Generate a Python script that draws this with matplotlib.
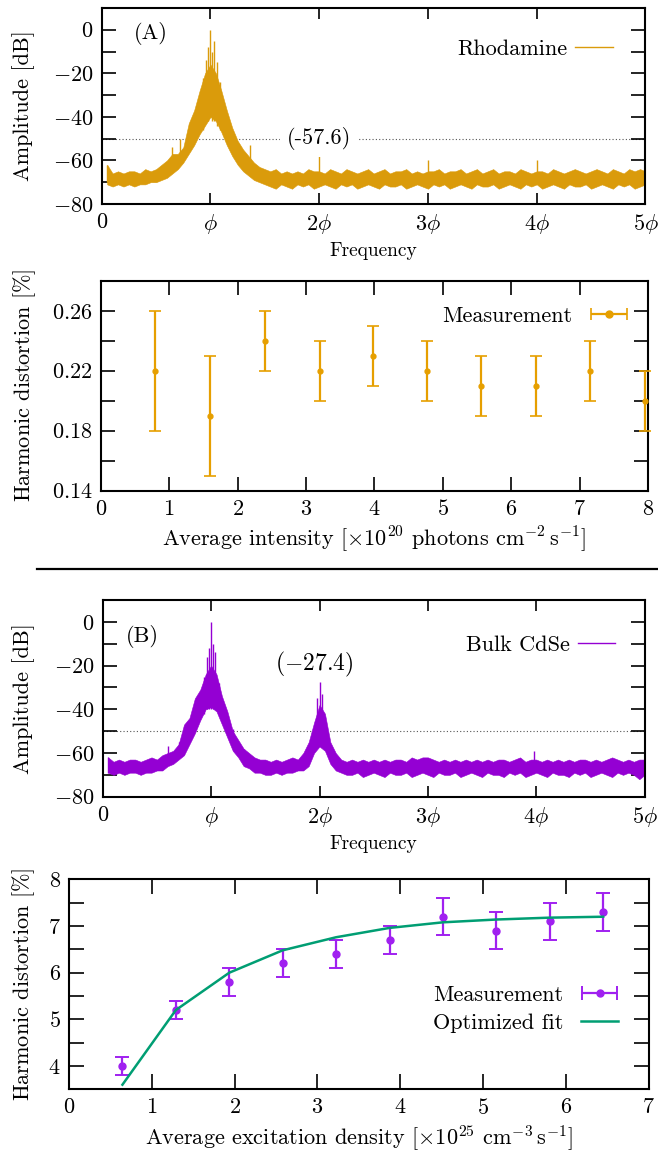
import numpy as np
import matplotlib
matplotlib.use('Agg')
import matplotlib.pyplot as plt
from matplotlib.lines import Line2D
from matplotlib.legend_handler import HandlerErrorbar

plt.rcParams['font.family'] = 'serif'
plt.rcParams['font.serif'] = ['cmr10']
plt.rcParams['mathtext.fontset'] = 'cm'
plt.rcParams['axes.unicode_minus'] = False
plt.rcParams['axes.formatter.use_mathtext'] = True

# ---- spectra: frequency grid (units of phi), upper / lower envelope of the noisy trace [dB]
freq = np.linspace(0.05, 5.0, 100)

rhod_hi = [-62, -66, -65, -66, -65, -65, -66, -64, -65, -64,
           -62, -60, -57, -57, -54, -43, -37, -28, -20, -16,
           -20, -28, -37, -45, -51, -55, -58, -61, -63, -64,
           -65, -64, -66, -65, -66, -65, -66, -64, -65, -65,
           -66, -64, -65, -66, -64, -65, -66, -65, -64, -66,
           -65, -64, -66, -65, -65, -64, -66, -65, -66, -65,
           -65, -64, -66, -65, -65, -64, -66, -65, -64, -66,
           -65, -64, -66, -65, -65, -66, -64, -65, -66, -65,
           -65, -66, -64, -65, -66, -65, -64, -65, -66, -65,
           -64, -65, -66, -64, -65, -66, -64, -65, -64, -65]
rhod_lo = [-71, -72, -71, -72, -71, -72, -71, -71, -70, -70,
           -69, -68, -66, -64, -61, -57, -53, -48, -44, -40,
           -42, -47, -53, -58, -62, -65, -67, -69, -70, -71,
           -72, -73, -71, -72, -73, -71, -72, -71, -73, -72,
           -71, -72, -73, -71, -72, -71, -73, -72, -71, -72,
           -73, -71, -72, -72, -71, -73, -72, -71, -72, -73,
           -71, -72, -71, -73, -72, -71, -72, -73, -71, -72,
           -72, -71, -73, -72, -71, -72, -73, -71, -72, -71,
           -73, -72, -71, -72, -73, -71, -72, -72, -71, -73,
           -72, -71, -72, -73, -71, -72, -71, -73, -72, -71]
rhod_spk_f = [0.05, 0.65, 0.72, 0.93, 0.96, 0.98, 1.00, 1.01, 1.03, 1.06, 1.09, 1.36, 2.00, 3.00, 4.00]
rhod_spk_lo = [-70, -64, -60, -46, -42, -42, -40, -42, -42, -44, -46, -66, -68, -68, -68]
rhod_spk_hi = [-62, -54, -50, -22, -14, -8, 0, -10, -5, -15, -24, -53, -58, -60, -60]

cdse_hi = [-62, -64, -63, -64, -63, -63, -64, -63, -62, -63,
           -61, -60, -59, -56, -47, -44, -35, -31, -24, -20,
           -24, -34, -41, -50, -54, -58, -60, -62, -63, -63,
           -64, -63, -64, -63, -62, -63, -60, -55, -46, -38,
           -42, -55, -60, -63, -64, -63, -64, -63, -64, -63,
           -64, -63, -64, -63, -63, -64, -62, -63, -62, -62,
           -63, -64, -63, -64, -63, -64, -63, -64, -63, -64,
           -63, -64, -63, -63, -64, -63, -62, -64, -63, -63,
           -64, -63, -64, -63, -64, -63, -64, -63, -63, -64,
           -63, -64, -63, -62, -63, -64, -63, -64, -63, -63]
cdse_lo = [-69, -70, -69, -70, -69, -69, -70, -69, -69, -68,
           -68, -66, -65, -63, -61, -56, -51, -45, -40, -39,
           -41, -47, -53, -59, -62, -66, -67, -69, -69, -70,
           -70, -69, -70, -69, -69, -68, -68, -66, -60, -57,
           -59, -65, -68, -69, -70, -70, -69, -71, -70, -69,
           -70, -71, -69, -70, -70, -69, -71, -70, -69, -70,
           -71, -69, -70, -70, -69, -71, -70, -69, -70, -71,
           -69, -70, -70, -71, -69, -70, -69, -71, -70, -69,
           -70, -71, -69, -70, -70, -71, -69, -70, -69, -71,
           -70, -69, -70, -71, -69, -70, -69, -70, -72, -70]
cdse_spk_f = [0.05, 0.60, 0.70, 0.93, 0.96, 0.98, 1.00, 1.02, 1.04, 1.07, 1.20, 1.30, 1.98, 2.00, 2.02, 3.98]
cdse_spk_lo = [-69, -65, -62, -42, -40, -40, -40, -40, -40, -42, -58, -64, -56, -56, -56, -66]
cdse_spk_hi = [-62, -57, -55, -25, -16, -12, 0, -10, -14, -28, -49, -58, -35, -27.4, -33, -59]

# ---- harmonic distortion, rhodamine
rhod_int = [0.80, 1.60, 2.40, 3.20, 3.98, 4.77, 5.56, 6.36, 7.15, 7.95]
rhod_hd = [0.22, 0.19, 0.24, 0.22, 0.23, 0.22, 0.21, 0.21, 0.22, 0.20]
rhod_err = [0.04, 0.04, 0.02, 0.02, 0.02, 0.02, 0.02, 0.02, 0.02, 0.02]

# ---- harmonic distortion, bulk CdSe
cdse_dens = [0.645, 1.29, 1.935, 2.58, 3.225, 3.87, 4.515, 5.16, 5.805, 6.45]
cdse_hd = [4.0, 5.2, 5.8, 6.2, 6.4, 6.7, 7.2, 6.9, 7.1, 7.3]
cdse_err = [0.2, 0.2, 0.3, 0.3, 0.3, 0.3, 0.4, 0.4, 0.4, 0.4]
cdse_fit = [3.6, 5.2, 6.0, 6.48, 6.76, 6.96, 7.08, 7.14, 7.18, 7.2]

c_rhod_spec = '#DA9B0B'
c_rhod_err = '#E69F00'
c_cdse_spec = '#9400D3'
c_cdse_err = '#A020F0'
c_fit = '#009E73'

FS = 16
TFS = 16

fig = plt.figure(figsize=(6.58, 11.53), dpi=100)


def style(ax, tl=10):
    for s in ax.spines.values():
        s.set_linewidth(1.5)
    ax.tick_params(direction='in', top=True, right=True, length=tl, width=1.2,
                   labelsize=TFS, pad=6)


def spectrum(ax, hi, lo, sf, slo, shi, color, label, legpos):
    ax.axhline(-50, color='#555555', lw=0.8, ls=(0, (1, 2)), zorder=1)
    ax.fill_between(freq, lo, hi, color=color, lw=0.4, zorder=2)
    ax.vlines(sf, slo, shi, color=color, lw=1.0, zorder=2)
    ax.plot([], [], color=color, lw=1.0, label=label)
    ax.set_xlim(0, 5)
    ax.set_ylim(-80, 10)
    ax.set_xticks(range(6))
    ax.set_xticklabels(['$0$', r'$\phi$', r'$2\phi$', r'$3\phi$', r'$4\phi$', r'$5\phi$'])
    ax.set_yticks(range(-80, 1, 10))
    ax.set_yticklabels(['$%d$' % v if v % 20 == 0 else '' for v in range(-80, 1, 10)])
    ax.set_ylabel('Amplitude [dB]', fontsize=FS)
    ax.set_xlabel('Frequency', fontsize=14)
    style(ax)
    ax.tick_params(axis='x', length=8)
    ax.legend(loc='center right', bbox_to_anchor=legpos, frameon=False, markerfirst=False,
              fontsize=FS, handlelength=1.7, handletextpad=0.35, borderpad=0, borderaxespad=0)


# panel A spectrum
axA = fig.add_axes([0.1546, 0.8231, 0.8264, 0.170])
spectrum(axA, rhod_hi, rhod_lo, rhod_spk_f, rhod_spk_lo, rhod_spk_hi, c_rhod_spec, 'Rhodamine', (0.94, 0.791))
axA.text(2.0, -50, '(-57.6)', fontsize=FS, ha='center', va='center',
         bbox=dict(facecolor='white', edgecolor='none', pad=5), zorder=3)
axA.text(0.3, -1.5, '(A)', fontsize=FS, ha='left', va='center')
axA.yaxis.set_label_coords(-0.1227, 0.5)

# panel A harmonic distortion
axA2 = fig.add_axes([0.1530, 0.5744, 0.8318, 0.1821])
axA2.errorbar(rhod_int, rhod_hd, yerr=rhod_err, fmt='o', ms=3.5, color=c_rhod_err,
              lw=1.6, capsize=4, capthick=1.2, clip_on=False, zorder=3)
hA = axA2.errorbar([np.nan], [np.nan], xerr=[1], fmt='o', ms=5, color=c_rhod_err,
                   lw=1.6, capsize=4, capthick=1.2, label='Measurement')
axA2.set_xlim(0, 8)
axA2.set_ylim(0.14, 0.28)
axA2.set_xticks(range(9))
axA2.set_xticklabels(['$%d$' % v for v in range(9)])
yt = [0.14, 0.16, 0.18, 0.20, 0.22, 0.24, 0.26, 0.28]
axA2.set_yticks(yt)
axA2.set_yticklabels(['$%.2f$' % v if i % 2 == 0 else '' for i, v in enumerate(yt)])
axA2.set_xlabel(r'Average intensity [$\times10^{20}$ photons cm$^{-2}\,$s$^{-1}$]', fontsize=FS)
axA2.set_ylabel(r'Harmonic distortion [$\%$]', fontsize=FS)
axA2.yaxis.set_label_coords(-0.1146, 0.5)
style(axA2)
axA2.legend(handles=[hA], handler_map={type(hA): HandlerErrorbar(xerr_size=0.8)},
            loc='center right', bbox_to_anchor=(0.962, 0.833), frameon=False, markerfirst=False,
            fontsize=FS, handlelength=1.65, handletextpad=0.8, borderpad=0, borderaxespad=0)

# separator
fig.add_artist(Line2D([0.056, 1.0], [0.5061, 0.5061], color='black', lw=1.6))

# panel B spectrum
axB = fig.add_axes([0.1561, 0.3090, 0.8237, 0.1706])
spectrum(axB, cdse_hi, cdse_lo, cdse_spk_f, cdse_spk_lo, cdse_spk_hi, c_cdse_spec, 'Bulk CdSe', (0.946, 0.771))
axB.text(1.95, -19.5, r'$(-27.4)$', fontsize=FS + 1, ha='center', va='center')
axB.text(0.21, -6.8, '(B)', fontsize=FS, ha='left', va='center')
axB.yaxis.set_label_coords(-0.1249, 0.5)

# panel B harmonic distortion
axB2 = fig.add_axes([0.1049, 0.0552, 0.881, 0.1821])
axB2.errorbar(cdse_dens, cdse_hd, yerr=cdse_err, fmt='o', ms=5, color=c_cdse_err,
              lw=1.6, capsize=5, capthick=1.4, zorder=3)
hB = axB2.errorbar([np.nan], [np.nan], xerr=[1], fmt='o', ms=5, color=c_cdse_err,
                   lw=1.6, capsize=5, capthick=1.4, label='Measurement')
fitl, = axB2.plot(cdse_dens, cdse_fit, color=c_fit, lw=1.8, label='Optimized fit', zorder=4)
axB2.set_xlim(0, 7)
axB2.set_ylim(3.5, 8)
axB2.set_xticks(range(8))
axB2.set_xticklabels(['$%d$' % v for v in range(8)])
ytb = np.arange(3.5, 8.01, 0.5)
axB2.set_yticks(ytb)
axB2.set_yticklabels(['$%d$' % v if v % 1 == 0 else '' for v in ytb])
axB2.set_xlabel(r'Average excitation density [$\times10^{25}$ cm$^{-3}\,$s$^{-1}$]', fontsize=FS)
axB2.set_ylabel(r'Harmonic distortion [$\%$]', fontsize=FS)
axB2.yaxis.set_label_coords(-0.0552, 0.5)
style(axB2, tl=11)
axB2.legend(handles=[hB, fitl], handler_map={type(hB): HandlerErrorbar(xerr_size=0.8)},
            loc='center right', bbox_to_anchor=(0.947, 0.382), frameon=False, markerfirst=False,
            fontsize=FS, handlelength=1.65, handletextpad=0.8, labelspacing=0.4,
            borderpad=0, borderaxespad=0)

fig.savefig('out.png', dpi=100)
